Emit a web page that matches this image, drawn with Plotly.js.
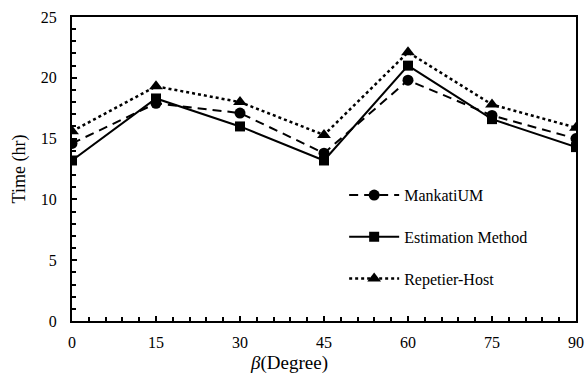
<!DOCTYPE html>
<html><head><meta charset="utf-8">
<script src="https://cdn.plot.ly/plotly-3.0.1.min.js"></script>
<style>body{margin:0;background:#fff}#c{width:587px;height:378px}</style>
</head><body><div id="c"></div>
<script>
const angles = [0, 15, 30, 45, 60, 75, 90];
const mankatiUM = [14.6, 17.9, 17.1, 13.8, 19.8, 16.9, 15.0];
const estimation = [13.2, 18.3, 16.0, 13.2, 21.0, 16.6, 14.3];
const repetier = [15.6, 19.3, 18.0, 15.3, 22.1, 17.8, 15.9];
const seriesNames = ['MankatiUM', 'Estimation Method', 'Repetier-Host'];
const xTicks = [0, 15, 30, 45, 60, 75, 90];
const yTicks = [0, 5, 10, 15, 20, 25];

const fam = 'Liberation Serif';
const f = (s) => ({family: fam, size: s, color: '#000'});
const traces = [
  {x: angles, y: mankatiUM, name: seriesNames[0], legendgroup: 'a', mode: 'lines+markers',
   line: {color: '#000', width: 2, dash: '9px,6px'}, marker: {symbol: 'circle', size: 11, color: '#000'}},
  {x: angles, y: estimation, name: seriesNames[1], legendgroup: 'b', mode: 'lines+markers',
   line: {color: '#000', width: 2, dash: 'solid'}, marker: {symbol: 'square', size: 10, color: '#000'}},
  {x: angles, y: repetier, name: seriesNames[2], legendgroup: 'c', mode: 'lines+markers',
   line: {color: '#000', width: 2.5, dash: 'dot'}, marker: {symbol: 'triangle-up', size: 12, color: '#000'}}
];
const layout = {
  width: 587, height: 378,
  margin: {l: 72, r: 11, t: 17, b: 57},
  paper_bgcolor: '#fff', plot_bgcolor: '#fff',
  font: f(15),
  showlegend: true,
  legend: {x: 0.54, y: 0.47, xanchor: 'left', yanchor: 'top', bgcolor: 'rgba(0,0,0,0)', itemwidth: 50,
           traceorder: 'grouped', tracegroupgap: 18, font: f(16)},
  xaxis: {range: [0, 90], tickvals: xTicks, ticktext: xTicks.map(String), ticks: 'inside', ticklen: 5, tickwidth: 2,
          minor: {dtick: 3, ticks: 'inside', ticklen: 4, tickwidth: 2, tickcolor: '#000'},
          tickcolor: '#000', showgrid: false, zeroline: false, showline: true, linecolor: '#000', linewidth: 2,
          mirror: true, ticklabelstandoff: 6, tickfont: f(16)},
  yaxis: {range: [0, 25], tickvals: yTicks, ticktext: yTicks.map(String), ticks: 'inside', ticklen: 5, tickwidth: 2,
          minor: {dtick: 1, ticks: 'inside', ticklen: 4, tickwidth: 2, tickcolor: '#000'},
          tickcolor: '#000', showgrid: false, zeroline: false, showline: true, linecolor: '#000', linewidth: 2,
          mirror: true, ticklabelstandoff: 10, tickfont: f(16),
          title: {text: 'Time (hr)', font: f(18), standoff: 10}},
  annotations: [{xref: 'paper', yref: 'paper', x: 0.43, y: -0.138, xanchor: 'center', yanchor: 'middle', showarrow: false,
    text: '<i>β</i>(Degree)', font: f(19)}]
};
Plotly.newPlot('c', traces, layout, {displayModeBar: false, staticPlot: true});
</script></body></html>
